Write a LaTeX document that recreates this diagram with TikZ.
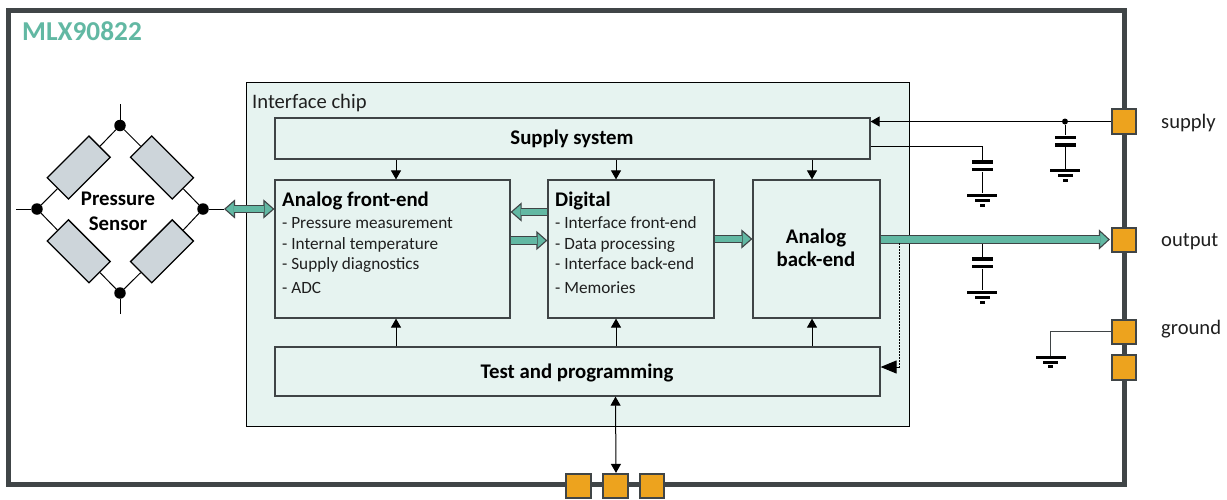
\documentclass[tikz,border=0pt]{standalone}
\usepackage{fontspec}
\setmainfont{Carlito}
\usetikzlibrary{arrows.meta}
\definecolor{framegray}{HTML}{404547}
\definecolor{boxgray}{HTML}{3F4446}
\definecolor{chipfill}{HTML}{E6F3F0}
\definecolor{teal}{HTML}{62B8A3}
\definecolor{pinfill}{HTML}{EDA31E}
\definecolor{resfill}{HTML}{CDD5DA}
\tikzset{
  x=1pt,y=-1pt,
  chipbox/.style={draw=black,line width=1pt,fill=chipfill,minimum width=663pt,minimum height=344pt,inner sep=0pt},
  block/.style={draw=boxgray,line width=1.2pt,fill=chipfill,inner sep=0pt},
  pin/.style={draw=framegray,line width=1.7pt,fill=pinfill,minimum size=24.5pt,inner sep=0pt},
  resistor/.style={draw=black,line width=1.3pt,fill=resfill,minimum width=59pt,minimum height=30pt,inner sep=0pt},
  dot/.style={circle,fill=black,minimum size=11.5pt,inner sep=0pt},
  smalldot/.style={circle,fill=black,minimum size=6pt,inner sep=0pt},
  bar/.style={fill=black,inner sep=0pt,minimum height=3.6pt},
  wire/.style={draw=black,line width=1pt},
  sig/.style={wire,-{Triangle[length=9pt,width=10pt]}},
  bisig/.style={wire,{Triangle[length=9pt,width=10pt]}-{Triangle[length=9pt,width=10pt]}},
  blockshaft/.style={draw=boxgray,line width=1.1pt,double=teal,double distance=6.4pt},
  blockarrow/.style={blockshaft,-{Triangle[length=11pt,width=19pt,fill=teal]},
    postaction={draw=teal,line width=6.4pt,-,shorten >=10pt}},
  biarrow/.style={blockshaft,{Triangle[length=11pt,width=19pt,fill=teal]}-{Triangle[length=11pt,width=19pt,fill=teal]},
    postaction={draw=teal,line width=6.4pt,-,shorten >=10pt,shorten <=10pt}},
  body/.style={font=\fontsize{17.2}{17.2}\selectfont,inner sep=0pt,anchor=base west,text=black!88},
  head/.style={font=\fontsize{20.8}{20.8}\selectfont\bfseries,inner sep=0pt,anchor=base,text=black},
  lab/.style={font=\fontsize{20.6}{20.6}\selectfont,inner sep=0pt,anchor=base west,text=black!88},
}
\newcommand{\capgnd}[3]{%
  \node[bar,minimum width=21pt] (#1p1) at (#2,#3) {};
  \node[bar,minimum width=21pt] (#1p2) at (#2,#3+7.5) {};
  \node[bar,minimum width=30pt,minimum height=3pt] (#1g1) at (#2,#3+33) {};
  \node[bar,minimum width=15pt,minimum height=3pt] (#1g2) at (#2,#3+38) {};
  \node[bar,minimum width=5pt,minimum height=3pt]  (#1g3) at (#2,#3+43) {};
  \draw[wire] (#1p2) -- (#1g1);
}
\begin{document}
\begin{tikzpicture}
\useasboundingbox (0,0) rectangle (1227,499);
% outer frame
\node[draw=framegray,line width=5pt,minimum width=1115.5pt,minimum height=474pt,inner sep=0pt] (frame) at (566.25,247) {};
\node[font=\fontsize{27.3}{27.3}\selectfont\bfseries,text=teal,inner sep=0pt,anchor=base west] (title) at (22,40) {MLX90822};
% pins
\node[pin] (psupply) at (1124,121.5) {};
\node[pin] (poutput) at (1124,240) {};
\node[pin] (pground) at (1124,332) {};
\node[pin] (pextra) at (1124,367.5) {};
\node[pin] (pb1) at (578.5,486) {};
\node[pin] (pb2) at (615.5,486) {};
\node[pin] (pb3) at (652,486) {};
\node[lab] (lsupply) at (1161,128) {supply};
\node[lab] (loutput) at (1161,246) {output};
\node[lab] (lground) at (1161,334) {ground};
% chip
\node[chipbox] (chip) at (577.5,254) {};
\node[lab] (chiplabel) at (252,108) {Interface chip};
\node[block,minimum width=595pt,minimum height=41pt] (supplysys) at (572.5,138.5) {};
\node[block,minimum width=235pt,minimum height=138pt] (afe) at (392.5,249) {};
\node[block,minimum width=166pt,minimum height=138pt] (digital) at (631,249) {};
\node[block,minimum width=127pt,minimum height=138pt] (abe) at (816.5,249) {};
\node[block,minimum width=605pt,minimum height=49pt] (testprog) at (577.5,371.5) {};
\node[head] (tsupply) at (572,144) {Supply system};
\node[head] (ttest) at (577,378) {Test and programming};
\node[head] (tabe1) at (816,243) {Analog};
\node[head] (tabe2) at (816,266) {back-end};
\node[head,anchor=base west] (tafe) at (282,206) {Analog front-end};
\node[body] (a1) at (282,228.5) {- Pressure measurement};
\node[body] (a2) at (282,249) {- Internal temperature};
\node[body] (a3) at (282,269) {- Supply diagnostics};
\node[body] (a4) at (282,293) {- ADC};
\node[head,anchor=base west] (tdig) at (555,206) {Digital};
\node[body] (d1) at (555,228.5) {- Interface front-end};
\node[body] (d2) at (555,249) {- Data processing};
\node[body] (d3) at (555,269) {- Interface back-end};
\node[body] (d4) at (555,293) {- Memories};
% sensor bridge
\node[resistor,rotate=45] (r1) at (78.7,167.5) {};
\node[resistor,rotate=-45] (r2) at (162,167.5) {};
\node[resistor,rotate=-45] (r3) at (78.7,251.3) {};
\node[resistor,rotate=45] (r4) at (162,251.3) {};
\node[dot] (ntop) at (120,125.5) {};
\node[dot] (nbot) at (120,293) {};
\node[dot] (nleft) at (37,209) {};
\node[dot] (nright) at (203,209) {};
\coordinate (ftop) at (120,104);
\coordinate (fbot) at (120,314);
\coordinate (fleft) at (16,209);
\coordinate (fright) at (224,209);
\draw[wire] (ftop) -- (ntop);
\draw[wire] (fbot) -- (nbot);
\draw[wire] (fleft) -- (nleft);
\draw[wire] (nright) -- (fright);
\draw[wire] (ntop) -- (r1.east);
\draw[wire] (ntop) -- (r2.west);
\draw[wire] (nleft) -- (r1.west);
\draw[wire] (nleft) -- (r3.west);
\draw[wire] (nright) -- (r2.east);
\draw[wire] (nright) -- (r4.east);
\draw[wire] (nbot) -- (r3.east);
\draw[wire] (nbot) -- (r4.west);
\node[head] (ts1) at (118,205) {Pressure};
\node[head] (ts2) at (118,230) {Sensor};
% thin arrows
\draw[sig] ([xshift=-176.5pt]supplysys.south) -- ([xshift=3.5pt]afe.north);
\draw[sig] ([xshift=43.5pt]supplysys.south) -- ([xshift=-15pt]digital.north);
\draw[sig] ([xshift=239.5pt]supplysys.south) -- ([xshift=-4.5pt]abe.north);
\draw[sig] ([xshift=-181.5pt]testprog.north) -- ([xshift=3.5pt]afe.south);
\draw[sig] ([xshift=38.5pt]testprog.north) -- ([xshift=-15pt]digital.south);
\draw[sig] ([xshift=234.5pt]testprog.north) -- ([xshift=-4.5pt]abe.south);
\draw[bisig] ([xshift=38pt]testprog.south) -- ([xshift=0.5pt]pb2.north);
% block arrows
\draw[biarrow] (fright) -- ([yshift=40pt]afe.west);
\draw[blockarrow] ([yshift=37pt]digital.west) -- ([yshift=37pt]afe.east);
\draw[blockarrow] ([yshift=8.5pt]afe.east) -- ([yshift=8.5pt]digital.west);
\draw[blockarrow] ([yshift=10pt]digital.east) -- ([yshift=10pt]abe.west);
% supply wiring
\node[smalldot] (jsupply) at (1065,121.5) {};
\draw[sig] (psupply.west) -- (jsupply.center) -- ([yshift=17pt]supplysys.east);
\capgnd{ca}{1065}{137.3}
\draw[wire] (jsupply) -- (cap1);
\capgnd{cb}{982.3}{162}
\coordinate (cbcorner) at (982.3,146);
\draw[wire] ([yshift=-7.5pt]supplysys.east) -- (cbcorner) -- (cbp1);
\capgnd{cc}{982.3}{259}
\coordinate (cctop) at (982.3,243);
\draw[wire] (cctop) -- (ccp1);
\draw[blockarrow,-{Triangle[length=11pt,width=20pt,fill=teal]}] ([yshift=9.5pt]abe.east) -- ([yshift=0.5pt,xshift=-1pt]poutput.west);
% ground wiring
\coordinate (gcorner) at (1050.5,331);
\node[bar,minimum width=30pt,minimum height=3pt] (gg1) at (1050.5,357.3) {};
\node[bar,minimum width=15pt,minimum height=3pt] (gg2) at (1050.5,362) {};
\node[bar,minimum width=5pt,minimum height=3pt] (gg3) at (1050.5,366.5) {};
\draw[draw=boxgray,line width=1pt] ([yshift=1pt]pground.west) -- (gcorner) -- (gg1);
% dotted feedback
\coordinate (fbtop) at (899.5,243);
\coordinate (fbcorner) at (899.5,367);
\draw[wire,dash pattern=on 2pt off 1pt] (fbtop) -- (fbcorner);
\draw[wire,-{Triangle[length=16pt,width=13pt]}] (fbcorner) -- ([yshift=4.5pt]testprog.east);
\end{tikzpicture}
\end{document}
